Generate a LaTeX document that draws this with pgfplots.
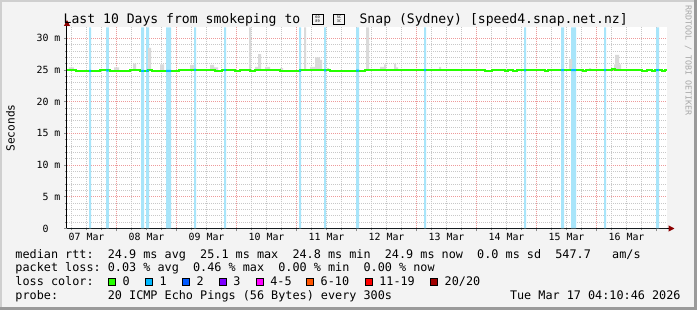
\documentclass[border=0pt]{standalone}
\usepackage{pgfplots}
\pgfplotsset{compat=1.18}
\usepackage{fontspec}
\usetikzlibrary{arrows.meta}
\setmainfont{DejaVu Sans Mono}
\newfontfamily\mono{DejaVu Sans Mono}
\newcommand\titlefont{\mono\fontsize{13.1pt}{15pt}\selectfont}
\newcommand\legfont{\mono\fontsize{11.8pt}{14pt}\selectfont}
\newcommand\ylfont{\mono\fontsize{11.2pt}{13pt}\selectfont}
\newcommand\tickfont{\mono\fontsize{9.9pt}{12pt}\selectfont}
\newcommand\wmfont{\mono\fontsize{8.3pt}{10pt}\selectfont}
\newcommand\tofufont{\mono\fontsize{3.6pt}{3.9pt}\selectfont}
\definecolor{canvas}{HTML}{F3F3F3}
\definecolor{bordlight}{HTML}{CFCFCF}
\definecolor{borddark}{HTML}{9A9A9A}
\definecolor{gridgray}{HTML}{C8C8C8}
\definecolor{gridred}{HTML}{EE9A9A}
\definecolor{arrowred}{HTML}{8B0000}
\definecolor{smoke}{HTML}{DADADA}
\definecolor{lossbar}{HTML}{A8E5FA}
\definecolor{lc0}{HTML}{26FF00}
\definecolor{lc1}{HTML}{00B8FF}
\definecolor{lc2}{HTML}{0059FF}
\definecolor{lc3}{HTML}{7E00FF}
\definecolor{lc4}{HTML}{FF00FF}
\definecolor{lc6}{HTML}{FF5500}
\definecolor{lc11}{HTML}{FF0000}
\definecolor{lc20}{HTML}{A00000}
\definecolor{wm}{HTML}{A8A8A8}
\begin{document}
\begin{tikzpicture}[x=1pt,y=1pt]
\path[use as bounding box] (0,0) rectangle (697,310);
\fill[canvas] (0,0) rectangle (697,310);
\fill[bordlight] (0,308) rectangle (697,310);
\fill[bordlight] (0,0) rectangle (2,310);
\fill[borddark] (0,0) rectangle (697,3);
\fill[borddark] (694,0) rectangle (697,310);
\begin{axis}[
  at={(67pt,81.5pt)}, anchor=south west,
  scale only axis, width=600pt, height=201pt,
  xmin=0, xmax=240, ymin=0, ymax=31.7,
  axis lines=left,
  axis line style={black, line width=1pt},
  x axis line style={-{Triangle[length=6pt,width=6pt,color=arrowred]}, shorten >=-7.5pt},
  y axis line style={-{Triangle[length=6pt,width=6pt,color=arrowred]}, shorten >=-7.5pt},
  axis background/.style={fill=white},
  tick align=outside,
  xtick={19.82,43.82,...,235.82},
  xticklabels={},
  minor xtick={1.82,7.82,...,238},
  extra x ticks={7.82,31.82,...,223.82},
  extra x tick labels={07 Mar,08 Mar,09 Mar,10 Mar,11 Mar,12 Mar,13 Mar,14 Mar,15 Mar,16 Mar},
  extra x tick style={grid=none, major tick length=0pt},
  ytick={0,5,...,30},
  yticklabels={0\phantom{~m},5~m,10~m,15~m,20~m,25~m,30~m},
  minor y tick num=4,
  grid=both,
  major grid style={draw=gridred, line width=0.8pt, dash pattern=on 1pt off 1pt},
  minor grid style={draw=gridgray, line width=0.8pt, dash pattern=on 1pt off 1pt},
  major tick length=3pt, minor tick length=2pt,
  tick style={black!45, line width=0.8pt},
  tick label style={font=\tickfont, text=black, inner sep=0pt},
  xticklabel style={anchor=base, yshift=-12.5pt},
  yticklabel style={anchor=east, xshift=-3.4pt},
]
% loss background bars (loss 1/20)
\addplot[fill=lossbar, draw=none] coordinates {
(0,0)
(8.8,0)(8.8,31.7)(9.6,31.7)(9.6,0)
(15.6,0)(15.6,31.7)(16.7,31.7)(16.7,0)
(29.6,0)(29.6,31.7)(30.8,31.7)(30.8,0)
(31.6,0)(31.6,31.7)(32.8,31.7)(32.8,0)
(39.6,0)(39.6,31.7)(41.6,31.7)(41.6,0)
(50.8,0)(50.8,31.7)(51.6,31.7)(51.6,0)
(62.8,0)(62.8,31.7)(63.6,31.7)(63.6,0)
(92.8,0)(92.8,31.7)(93.6,31.7)(93.6,0)
(102.8,0)(102.8,31.7)(103.6,31.7)(103.6,0)
(115.6,0)(115.6,31.7)(116.8,31.7)(116.8,0)
(142.8,0)(142.8,31.7)(143.6,31.7)(143.6,0)
(182.8,0)(182.8,31.7)(183.6,31.7)(183.6,0)
(197.6,0)(197.6,31.7)(198.8,31.7)(198.8,0)
(201.6,0)(201.6,31.7)(203.6,31.7)(203.6,0)
(214.8,0)(214.8,31.7)(215.6,31.7)(215.6,0)
(235.6,0)(235.6,31.7)(236.8,31.7)(236.8,0)
(240,0)};
% smoke
\addplot[fill=smoke, draw=none] coordinates {
(0,24.9)
(0.8,24.9)(0.8,25.4)(2.8,25.4)(2.8,24.9)
(18.8,24.9)(18.8,25.4)(20.8,25.4)(20.8,24.9)
(26.4,24.9)(26.4,26.0)(27.6,26.0)(27.6,24.9)
(32.4,24.9)(32.4,28.5)(33.6,28.5)(33.6,24.9)
(37.2,24.9)(37.2,25.9)(38.8,25.9)(38.8,24.9)
(49.2,24.9)(49.2,25.8)(50.8,25.8)(50.8,24.9)
(57.2,24.9)(57.2,25.8)(58.8,25.8)(58.8,25.4)(60.4,25.4)(60.4,24.9)
(72.8,24.9)(72.8,31.7)(73.6,31.7)(73.6,24.9)
(75.2,24.9)(75.2,25.5)(76.4,25.5)(76.4,27.5)(77.6,27.5)(77.6,24.9)
(79.2,24.9)(79.2,25.5)(81.2,25.5)(81.2,24.9)
(85.2,24.9)(85.2,25.3)(86.4,25.3)(86.4,24.9)
(94.8,24.9)(94.8,31.7)(95.6,31.7)(95.6,24.9)
(97.2,24.9)(97.2,25.5)(99.2,25.5)(99.2,27.0)(101.2,27.0)(101.2,26.6)(102,26.6)(102,24.9)
(104,24.9)(104,25.3)(104.8,25.3)(104.8,24.9)
(119.6,24.9)(119.6,31.7)(120.8,31.7)(120.8,24.9)
(125.2,24.9)(125.2,25.5)(126.8,25.5)(126.8,25.9)(127.6,25.9)(127.6,24.9)
(130.8,24.9)(130.8,26.0)(131.6,26.0)(131.6,25.4)(132.4,25.4)(132.4,24.9)
(148.8,24.9)(148.8,25.5)(149.6,25.5)(149.6,24.9)
(200.8,24.9)(200.8,26.7)(202,26.7)(202,24.9)
(208.8,24.9)(208.8,25.3)(209.6,25.3)(209.6,24.9)
(218.8,24.9)(218.8,25.9)(219.2,25.9)(219.2,27.4)(220.8,27.4)(220.8,25.9)(221.6,25.9)(221.6,24.9)
(240,24.9)};
% median rtt (loss 0)
\addplot[const plot, lc0, line width=2pt] coordinates {
(0,25.05)(3.6,24.87)(13.2,24.93)(17.2,24.87)(25.2,24.95)(29.2,24.87)(32.4,24.95)(34,24.87)
(44.8,25.0)(59.2,24.87)(62,24.97)(67.2,24.88)(69.2,24.97)(73.2,24.87)(75.2,24.95)(85.2,24.9)
(93.2,24.95)(105.2,24.9)(119.2,24.97)(167.2,24.87)(170,24.97)(175.2,24.87)(176.4,24.97)
(178.4,24.87)(180,24.95)(191.2,24.85)(192.4,24.97)(206.4,24.87)(207.6,24.97)(218,25.2)
(219.2,25.05)(221.2,24.97)(230,24.87)(232,24.97)(234,24.87)(235.2,24.97)(238,24.87)
(239.2,24.97)(240,24.97)};
% median rtt at loss 1/20
\addplot[lc1, line width=2pt, unbounded coords=jump] coordinates {
(8.8,24.87)(9.6,24.87)(9.6,nan)
(15.6,24.93)(16.7,24.9)(16.7,nan)
(29.6,24.87)(30.8,24.87)(30.8,nan)
(31.6,24.87)(32.8,24.9)(32.8,nan)
(39.6,24.87)(41.6,24.87)(41.6,nan)
(50.8,25.0)(51.6,25.0)(51.6,nan)
(62.8,24.97)(63.6,24.97)(63.6,nan)
(92.8,24.9)(93.6,24.9)(93.6,nan)
(102.8,24.95)(103.6,24.95)(103.6,nan)
(115.6,24.9)(116.8,24.9)(116.8,nan)
(142.8,24.97)(143.6,24.97)(143.6,nan)
(182.8,24.95)(183.6,24.95)(183.6,nan)
(197.6,24.97)(198.8,24.97)(198.8,nan)
(201.6,24.97)(203.6,24.97)(203.6,nan)
(214.8,24.97)(215.6,24.97)(215.6,nan)
(235.6,24.97)(236.8,24.97)};
\end{axis}
% title
\node[anchor=base west, inner sep=0, font=\titlefont] at (63.5,286) {Last 10 Days from smokeping to};
\draw[line width=0.7pt] (312,285.5) rectangle (323,295.5);
\node[inner sep=0, align=center, font=\tofufont] at (317.5,290.5) {60\\89};
\draw[line width=0.7pt] (333.5,285.5) rectangle (344.5,295.5);
\node[inner sep=0, align=center, font=\tofufont] at (339,290.5) {5C\\3C};
\node[anchor=base west, inner sep=0, font=\titlefont] at (359.4,286) {Snap (Sydney) [speed4.snap.net.nz]};
% y label
\node[rotate=90, inner sep=0, font=\ylfont] at (10.5,182) {Seconds};
% watermark
\node[rotate=-90, anchor=west, inner sep=0, font=\wmfont, text=wm] at (688.3,305) {RRDTOOL / TOBI OETIKER};
% legend
\node[anchor=base west, inner sep=0, font=\legfont] at (15.3,51.7) {median rtt:~~24.9 ms avg~~25.1 ms max~~24.8 ms min~~24.9 ms now~~0.0 ms sd~~547.7~~~am/s};
\node[anchor=base west, inner sep=0, font=\legfont] at (15.3,38.3) {packet loss:~0.03 \% avg~~0.46 \% max~~0.00 \% min~~0.00 \% now};
\node[anchor=base west, inner sep=0, font=\legfont] at (15.3,24.3) {loss color:};
\filldraw[fill=lc0, draw=black, line width=0.6pt] (108.7,24.3) rectangle ++(6.8,7.5);
\node[anchor=base west, inner sep=0, font=\legfont] at (122.5,24.3) {0};
\filldraw[fill=lc1, draw=black, line width=0.6pt] (145.7,24.3) rectangle ++(6.8,7.5);
\node[anchor=base west, inner sep=0, font=\legfont] at (159.5,24.3) {1};
\filldraw[fill=lc2, draw=black, line width=0.6pt] (182.7,24.3) rectangle ++(6.8,7.5);
\node[anchor=base west, inner sep=0, font=\legfont] at (196.5,24.3) {2};
\filldraw[fill=lc3, draw=black, line width=0.6pt] (219.3,24.3) rectangle ++(6.8,7.5);
\node[anchor=base west, inner sep=0, font=\legfont] at (233.1,24.3) {3};
\filldraw[fill=lc4, draw=black, line width=0.6pt] (256.3,24.3) rectangle ++(6.8,7.5);
\node[anchor=base west, inner sep=0, font=\legfont] at (270.1,24.3) {4-5};
\filldraw[fill=lc6, draw=black, line width=0.6pt] (306.7,24.3) rectangle ++(6.8,7.5);
\node[anchor=base west, inner sep=0, font=\legfont] at (320.5,24.3) {6-10};
\filldraw[fill=lc11, draw=black, line width=0.6pt] (365.3,24.3) rectangle ++(6.8,7.5);
\node[anchor=base west, inner sep=0, font=\legfont] at (379.1,24.3) {11-19};
\filldraw[fill=lc20, draw=black, line width=0.6pt] (430.7,24.3) rectangle ++(6.8,7.5);
\node[anchor=base west, inner sep=0, font=\legfont] at (444.5,24.3) {20/20};
\node[anchor=base west, inner sep=0, font=\legfont] at (15.3,10.3) {probe:~~~~~~~20 ICMP Echo Pings (56 Bytes) every 300s};
\node[anchor=base east, inner sep=0, font=\legfont] at (680.7,10.3) {Tue Mar 17 04:10:46 2026};
\end{tikzpicture}
\end{document}
